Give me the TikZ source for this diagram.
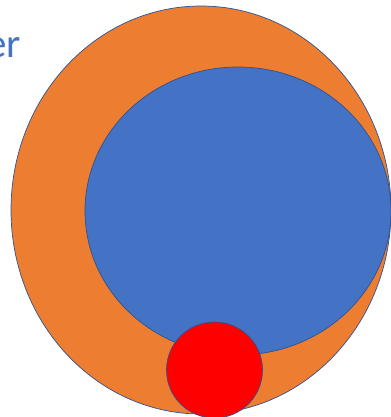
\documentclass[tikz,border=0pt]{standalone}
\usepackage{fontspec}
\setmainfont{Carlito}
\usetikzlibrary{positioning}
\definecolor{ringOrange}{HTML}{ED7D31}
\definecolor{coreBlue}{HTML}{4472C4}
\definecolor{edgeBlue}{HTML}{2F528F}
\definecolor{dotRed}{HTML}{FF0000}

\begin{document}
\begin{tikzpicture}[x=0.03cm, y=-0.03cm,
    blob/.style={draw=edgeBlue, line width=0.6pt, fill=#1},
    lbl/.style={font=\fontsize{35}{40}\selectfont\color{coreBlue}, inner sep=0pt}
  ]
    \useasboundingbox (0,0) rectangle (391,417);
    % outer ring, inner body, small dot
    \draw[blob=ringOrange] (201,210) ellipse [x radius=190, y radius=204];
    \draw[blob=coreBlue] (238,211) ellipse [x radius=153, y radius=144];
    \draw[blob=dotRed] (214.5,370) circle [radius=48];
    \node[lbl, anchor=base east] (word) at (21,57) {er};
  \end{tikzpicture}
\end{document}
